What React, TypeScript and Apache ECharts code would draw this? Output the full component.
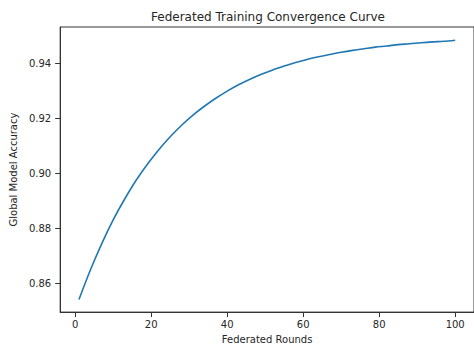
import React, { useEffect, useRef } from "react";
import * as echarts from "echarts";

const rounds = [1, 4, 7, 10, 13, 16, 19, 22, 25, 28, 31, 34, 37, 40, 43, 46, 49, 52, 55, 58, 61, 64, 67, 70, 73, 76, 79, 82, 85, 88, 91, 94, 97, 100];
const accuracy = [0.8541, 0.8648, 0.8744, 0.883, 0.8905, 0.8973, 0.9032, 0.9085, 0.9132, 0.9174, 0.9211, 0.9243, 0.9272, 0.9298, 0.9321, 0.9341, 0.9359, 0.9375, 0.9389, 0.9402, 0.9413, 0.9423, 0.9431, 0.9439, 0.9446, 0.9452, 0.9458, 0.9462, 0.9467, 0.947, 0.9474, 0.9477, 0.9479, 0.9483];
const xTicks = [0, 20, 40, 60, 80, 100];
const yTicks = [0.86, 0.88, 0.9, 0.92, 0.94];

const FONT = "DejaVu Sans";
const TEXT = "#262626";
const AXIS = "#333333";

export default function App() {
  const ref = useRef<HTMLDivElement>(null);
  useEffect(() => {
    if (!ref.current) return;
    const chart = echarts.init(ref.current, undefined, { renderer: "svg" });
    chart.setOption({
      animation: false,
      backgroundColor: "#ffffff",
      textStyle: { fontFamily: FONT },
      grid: {
        left: 58,
        top: 27,
        width: 420,
        height: 289,
        show: true,
        borderColor: AXIS,
        borderWidth: 1,
        backgroundColor: "transparent",
      },
      graphic: [
        {
          type: "text",
          x: 268,
          y: 17,
          style: {
            text: "Federated Training Convergence Curve",
            fill: TEXT,
            font: `12px '${FONT}'`,
            textAlign: "center",
            textVerticalAlign: "middle",
          },
        },
      ],
      xAxis: {
        type: "value",
        min: -3.95,
        max: 104.95,
        name: "Federated Rounds",
        nameLocation: "middle",
        nameGap: 21,
        nameTextStyle: { color: TEXT, fontSize: 10, fontFamily: FONT, verticalAlign: "top" },
        axisLine: { show: true, onZero: false, lineStyle: { color: AXIS, width: 1 } },
        axisTick: { show: true, inside: false, length: 5, lineStyle: { color: AXIS }, customValues: xTicks },
        axisLabel: {
          color: TEXT,
          fontSize: 10,
          fontFamily: FONT,
          margin: 7,
          customValues: xTicks,
          formatter: (v: number) => String(v),
        },
        splitLine: { show: false },
      },
      yAxis: {
        type: "value",
        min: 0.8495,
        max: 0.9531,
        name: "Global Model Accuracy",
        nameLocation: "middle",
        nameGap: 33,
        nameTextStyle: { color: TEXT, fontSize: 10, fontFamily: FONT },
        axisLine: { show: true, onZero: false, lineStyle: { color: AXIS, width: 1 } },
        axisTick: { show: true, inside: false, length: 5, lineStyle: { color: AXIS }, customValues: yTicks },
        axisLabel: {
          color: TEXT,
          fontSize: 10,
          fontFamily: FONT,
          margin: 9,
          customValues: yTicks,
          formatter: (v: number) => v.toFixed(2),
        },
        splitLine: { show: false },
      },
      series: [
        {
          type: "line",
          data: rounds.map((r, i) => [r, accuracy[i]]),
          showSymbol: false,
          smooth: 0.3,
          lineStyle: { color: "#1f77b4", width: 1.6 },
          itemStyle: { color: "#1f77b4" },
        },
      ],
    });
    return () => chart.dispose();
  }, []);
  return <div ref={ref} style={{ width: 474, height: 349, position: "fixed", left: 0, top: 0 }} />;
}
